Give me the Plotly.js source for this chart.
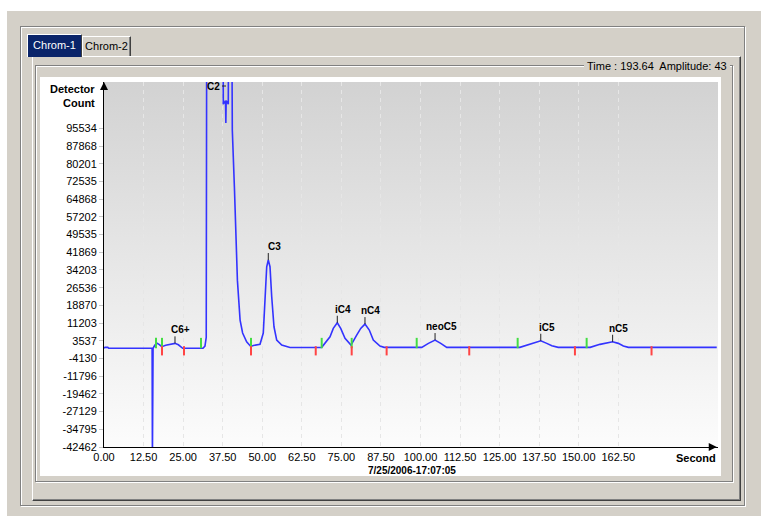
<!DOCTYPE html>
<html><head><meta charset="utf-8">
<script src="https://cdn.plot.ly/plotly-3.0.1.min.js"></script>
<style>
body{margin:0;width:761px;height:516px;background:#fff;position:relative;overflow:hidden;font-family:"Liberation Sans",Arial,sans-serif;}
.a{position:absolute;box-sizing:border-box;}
</style></head><body>
<div class="a" style="left:7px;top:11px;width:754px;height:505px;background:#d4d0c8"></div>
<div class="a" style="left:20px;top:26px;width:725px;height:480px;border:1px solid #808080;box-shadow:inset 1px 1px 0 #fff,1px 1px 0 #fff;"></div>
<div class="a" style="left:32px;top:56px;width:709px;height:445px;border-top:1px solid #fff;border-left:1px solid #fff;border-right:1px solid #404040;border-bottom:1px solid #404040;box-shadow:inset -1px -1px 0 #808080;"></div>
<div class="a" style="left:82px;top:36px;width:49px;height:20px;background:#d4d0c8;border-top:1px solid #fff;border-left:1px solid #fff;border-right:1px solid #404040;box-shadow:inset -1px 0 0 #808080;font-size:11px;text-align:center;line-height:19px;color:#000">Chrom-2</div>
<div class="a" style="left:27px;top:34px;width:55px;height:23px;background:#0a246a;border-top:1px solid #fff;border-left:1px solid #fff;border-right:1px solid #404040;color:#fff;font-size:11px;text-align:center;line-height:20px;">Chrom-1</div>
<div class="a" style="left:35px;top:65px;width:698px;height:417px;border:1px solid #808080;box-shadow:inset 1px 1px 0 #fff,1px 1px 0 #fff;"></div>
<div class="a" style="left:584px;top:59px;padding:0 3px;background:#d4d0c8;font-size:11px;line-height:14px;white-space:nowrap;color:#000">Time : 193.64&nbsp; Amplitude: 43</div>
<div class="a" style="left:40px;top:77px;width:681px;height:399px;background:#fff"></div>
<div class="a" style="left:104px;top:82px;width:614px;height:365px;background:linear-gradient(to bottom,#d2d2d2,#fcfcfc)"></div>
<div id="chart" class="a" style="left:40px;top:77px;width:681px;height:399px"></div>
<script>
// ---- data ----
const chromTime = [0, 0.3, 1.2, 1.5, 14.9, 15.2, 15.3, 15.4, 15.5, 16.0, 16.65, 17.5, 18.23, 19.5, 21.0, 22.43, 23.5, 24.87,
  31.28, 31.9, 32.3, 32.45, 37.6, 37.69, 38.4, 38.5, 38.6, 39.27, 39.35, 40.4, 40.54, 41.2, 41.65, 42.15, 43.0, 43.8, 45.07, 46.35, 47.2,
  49.29, 50.33, 50.87, 51.41, 51.91, 52.45, 52.99, 53.71, 54.57, 56.15, 58.77,
  68.78, 71.41, 72.45, 73.71, 74.79, 76.15, 78.04, 79.84, 81.11, 82.46, 83.82, 85.09, 87.2, 88.5,
  100.4, 102.5, 104.6, 106.4, 108.3,
  131.4, 134.6, 136.2, 138.0, 139.9, 141.5, 143.5,
  153.6, 156.7, 158.8, 160.7, 162.5, 164.1, 165.7, 193.6];
const chromSignal = [300, 700, 700, 300, 300, 300, -48000, -24300, 300, 1500, 2600, 1900, 1000, 1600, 2100, 2420, 1800, 300,
  300, 1250, 5000, 140000, 140000, 106000, 107500, 97800, 107500, 106000, 140000, 140000, 94800, 70100, 51500, 29800, 12500, 6900, 3100, 1100, 1500,
  2000, 6900, 22600, 35600, 38500, 35600, 22600, 9600, 3850, 1700, 600,
  700, 5280, 8900, 11340, 8900, 4580, 1680, 6010, 8900, 10770, 8180, 3850, 1250, 700,
  700, 2420, 3850, 2420, 700,
  700, 2120, 2850, 3550, 2420, 1380, 700,
  700, 1990, 2680, 3110, 2420, 1250, 700, 700];

const peakNames = ['C6+', 'C2', 'C3', 'iC4', 'nC4', 'neoC5', 'iC5', 'nC5'];
const peakTimes = [22.43, 38.55, 51.91, 73.71, 82.46, 104.6, 138.0, 160.7];
const peakHeights = [2420, 140000, 38500, 11340, 10770, 3850, 3550, 3110];

const peakStartTimes = [16.43, 18.33, 30.65, 46.45, 68.78, 78.26, 98.8, 130.7, 152.5];
const peakEndTimes = [18.33, 25.28, 46.45, 66.9, 78.26, 89.3, 115.4, 148.8, 173.0];

const xTickVals = [0, 12.5, 25, 37.5, 50, 62.5, 75, 87.5, 100, 112.5, 125, 137.5, 150, 162.5];
const xTickText = ['0.00', '12.50', '25.00', '37.50', '50.00', '62.50', '75.00', '87.50', '100.00', '112.50', '125.00', '137.50', '150.00', '162.50'];
const yTickVals = [95534, 87868, 80201, 72535, 64868, 57202, 49535, 41869, 34203, 26536, 18870, 11203, 3537, -4130, -11796, -19462, -27129, -34795, -42462];
const yTickText = ['95534', '87868', '80201', '72535', '64868', '57202', '49535', '41869', '34203', '26536', '18870', '11203', '3537', '-4130', '-11796', '-19462', '-27129', '-34795', '-42462'];
const yMin = -42462, yMax = 115600;
const xMax = 194;

// ---- build ----
const plotH = 365;
const upp = (yMax - yMin) / plotH; // units per pixel

function segs(times, lo, hi) {
  const x = [], y = [];
  times.forEach(t => { x.push(t, t, null); y.push(lo, hi, null); });
  return {x, y};
}
const g = segs(peakStartTimes, 300, 4800);
const r = segs(peakEndTimes, -2800, 1200);

const tickX = [], tickY = [];
const annotations = [];
const bold = {family: 'Liberation Sans, Arial, sans-serif', size: 10, color: '#000', weight: 700};
peakNames.forEach((n, i) => {
  const t = peakTimes[i], v = peakHeights[i];
  if (v > yMax) {
    const ly = yMax - 4 * upp;
    tickX.push(t - 4 / 3.165, t, null); tickY.push(ly, ly, null);
    annotations.push({x: t, y: ly, xref: 'x', yref: 'y', text: n, showarrow: false, xanchor: 'right', xshift: -4, font: bold});
  } else {
    tickX.push(t, t, null); tickY.push(v, v + 7 * upp, null);
    annotations.push({x: t, y: v, xref: 'x', yref: 'y', text: n, showarrow: false, xshift: 6, yshift: 13.5, font: bold});
  }
});

const boldAx = {family: 'Liberation Sans, Arial, sans-serif', size: 11, color: '#000', weight: 700};
annotations.push(
  {xref: 'paper', yref: 'paper', x: 0, y: 1, xanchor: 'right', yanchor: 'middle', xshift: -7, yshift: -7, text: 'Detector', showarrow: false, font: boldAx},
  {xref: 'paper', yref: 'paper', x: 0, y: 1, xanchor: 'right', yanchor: 'middle', xshift: -7, yshift: -21, text: 'Count', showarrow: false, font: boldAx},
  {xref: 'paper', yref: 'paper', x: 1, y: 0, xanchor: 'right', yanchor: 'middle', yshift: -11, text: 'Second', showarrow: false, font: boldAx},
  {xref: 'paper', yref: 'paper', x: 0.5016, y: 0, xanchor: 'center', yanchor: 'middle', yshift: -23, text: '7/25/2006-17:07:05', showarrow: false, font: {family: 'Liberation Sans, Arial, sans-serif', size: 10, color: '#000', weight: 700}},
  {xref: 'paper', yref: 'paper', x: 0, y: 1, ax: 0, ay: 9, text: '', showarrow: true, arrowhead: 2, arrowsize: 1.6, arrowwidth: 1, arrowcolor: '#000', standoff: 0},
  {xref: 'paper', yref: 'paper', x: 0.998, y: 0, ax: -9, ay: 0, text: '', showarrow: true, arrowhead: 2, arrowsize: 1.6, arrowwidth: 1, arrowcolor: '#000', standoff: 0}
);

const traces = [
  {x: chromTime, y: chromSignal, type: 'scatter', mode: 'lines', line: {color: '#3333ff', width: 1.6}, hoverinfo: 'skip'},
  {x: g.x, y: g.y, type: 'scatter', mode: 'lines', line: {color: '#44dd44', width: 2}, hoverinfo: 'skip'},
  {x: r.x, y: r.y, type: 'scatter', mode: 'lines', line: {color: '#ff4444', width: 2}, hoverinfo: 'skip'},
  {x: tickX, y: tickY, type: 'scatter', mode: 'lines', line: {color: '#222', width: 1}, hoverinfo: 'skip'}
];

const layout = {
  width: 681, height: 399,
  margin: {l: 64, r: 3, t: 5, b: 29},
  paper_bgcolor: 'rgba(0,0,0,0)', plot_bgcolor: 'rgba(0,0,0,0)',
  showlegend: false,
  font: {family: 'Liberation Sans, Arial, sans-serif', size: 11, color: '#000'},
  xaxis: {range: [0, xMax], tickvals: xTickVals, ticktext: xTickText, showgrid: true, gridcolor: '#e6e6e6',
    griddash: '4px,4px', gridwidth: 1, showline: true, linecolor: '#000', linewidth: 1, ticks: '', zeroline: false,
    tickfont: {size: 11, color: '#000'}},
  yaxis: {range: [yMin, yMax], tickvals: yTickVals, ticktext: yTickText, showgrid: false, zeroline: false,
    showline: true, linecolor: '#000', linewidth: 1, ticks: 'outside', ticklen: 4, tickcolor: '#c8c8c8',
    tickfont: {size: 11, color: '#000'}},
  annotations: annotations
};
Plotly.newPlot('chart', traces, layout, {displayModeBar: false, staticPlot: true});
</script>
</body></html>
